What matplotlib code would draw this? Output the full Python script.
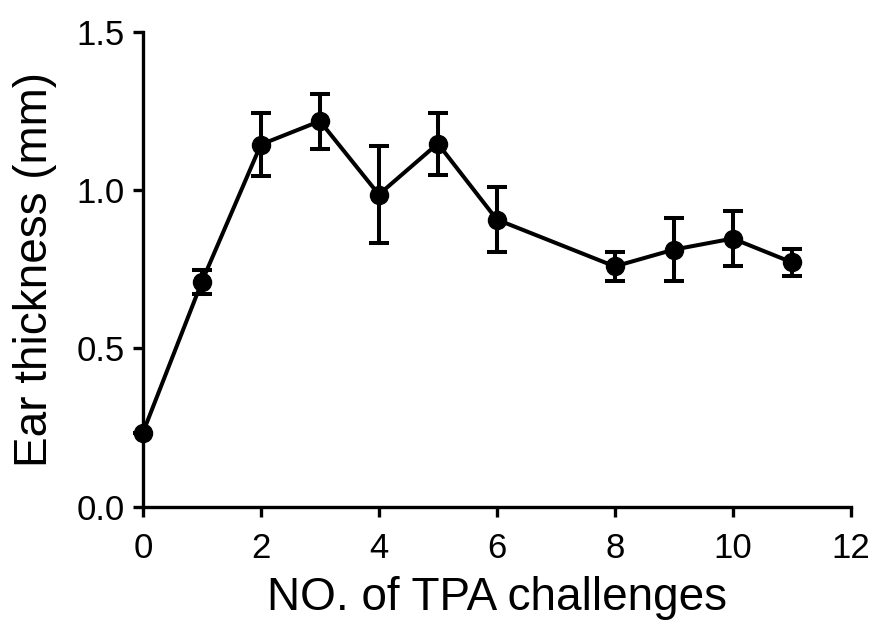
import matplotlib
matplotlib.use('Agg')
import matplotlib.pyplot as plt
from matplotlib.ticker import FormatStrFormatter

# Datos
retos = [0, 1, 2, 3, 4, 5, 6, 8, 9, 10, 11]
grosor = [0.234, 0.711, 1.144, 1.218, 0.986, 1.147, 0.907, 0.759, 0.812, 0.847, 0.772]
error = [0.0, 0.038, 0.100, 0.087, 0.152, 0.098, 0.104, 0.046, 0.100, 0.087, 0.043]

x_ticks = [0, 2, 4, 6, 8, 10, 12]
y_ticks = [0.0, 0.5, 1.0, 1.5]

plt.rcParams['font.family'] = ['Liberation Sans', 'DejaVu Sans']

fig = plt.figure(figsize=(8.77, 6.24), dpi=100)
ax = fig.add_axes([0.163, 0.188, 0.807, 0.761])

ax.errorbar(retos, grosor, yerr=error, color='black', linewidth=2.9,
            marker='o', markersize=13, capsize=7, capthick=2.9,
            elinewidth=2.9, clip_on=False, zorder=3)

ax.set_xlim(0, 12)
ax.set_ylim(0, 1.5)
ax.set_xticks(x_ticks)
ax.set_yticks(y_ticks)
ax.yaxis.set_major_formatter(FormatStrFormatter('%.1f'))

for lado in ['top', 'right']:
    ax.spines[lado].set_visible(False)
for lado in ['left', 'bottom']:
    ax.spines[lado].set_linewidth(2.4)

ax.tick_params(axis='both', width=2.4, length=7, labelsize=25, direction='out')
ax.tick_params(axis='x', pad=11)
ax.tick_params(axis='y', pad=6)
ax.set_xlabel('NO. of TPA challenges', fontsize=33, labelpad=8)
ax.set_ylabel('Ear thickness (mm)', fontsize=33, labelpad=14)

fig.savefig('out.png', dpi=100)
